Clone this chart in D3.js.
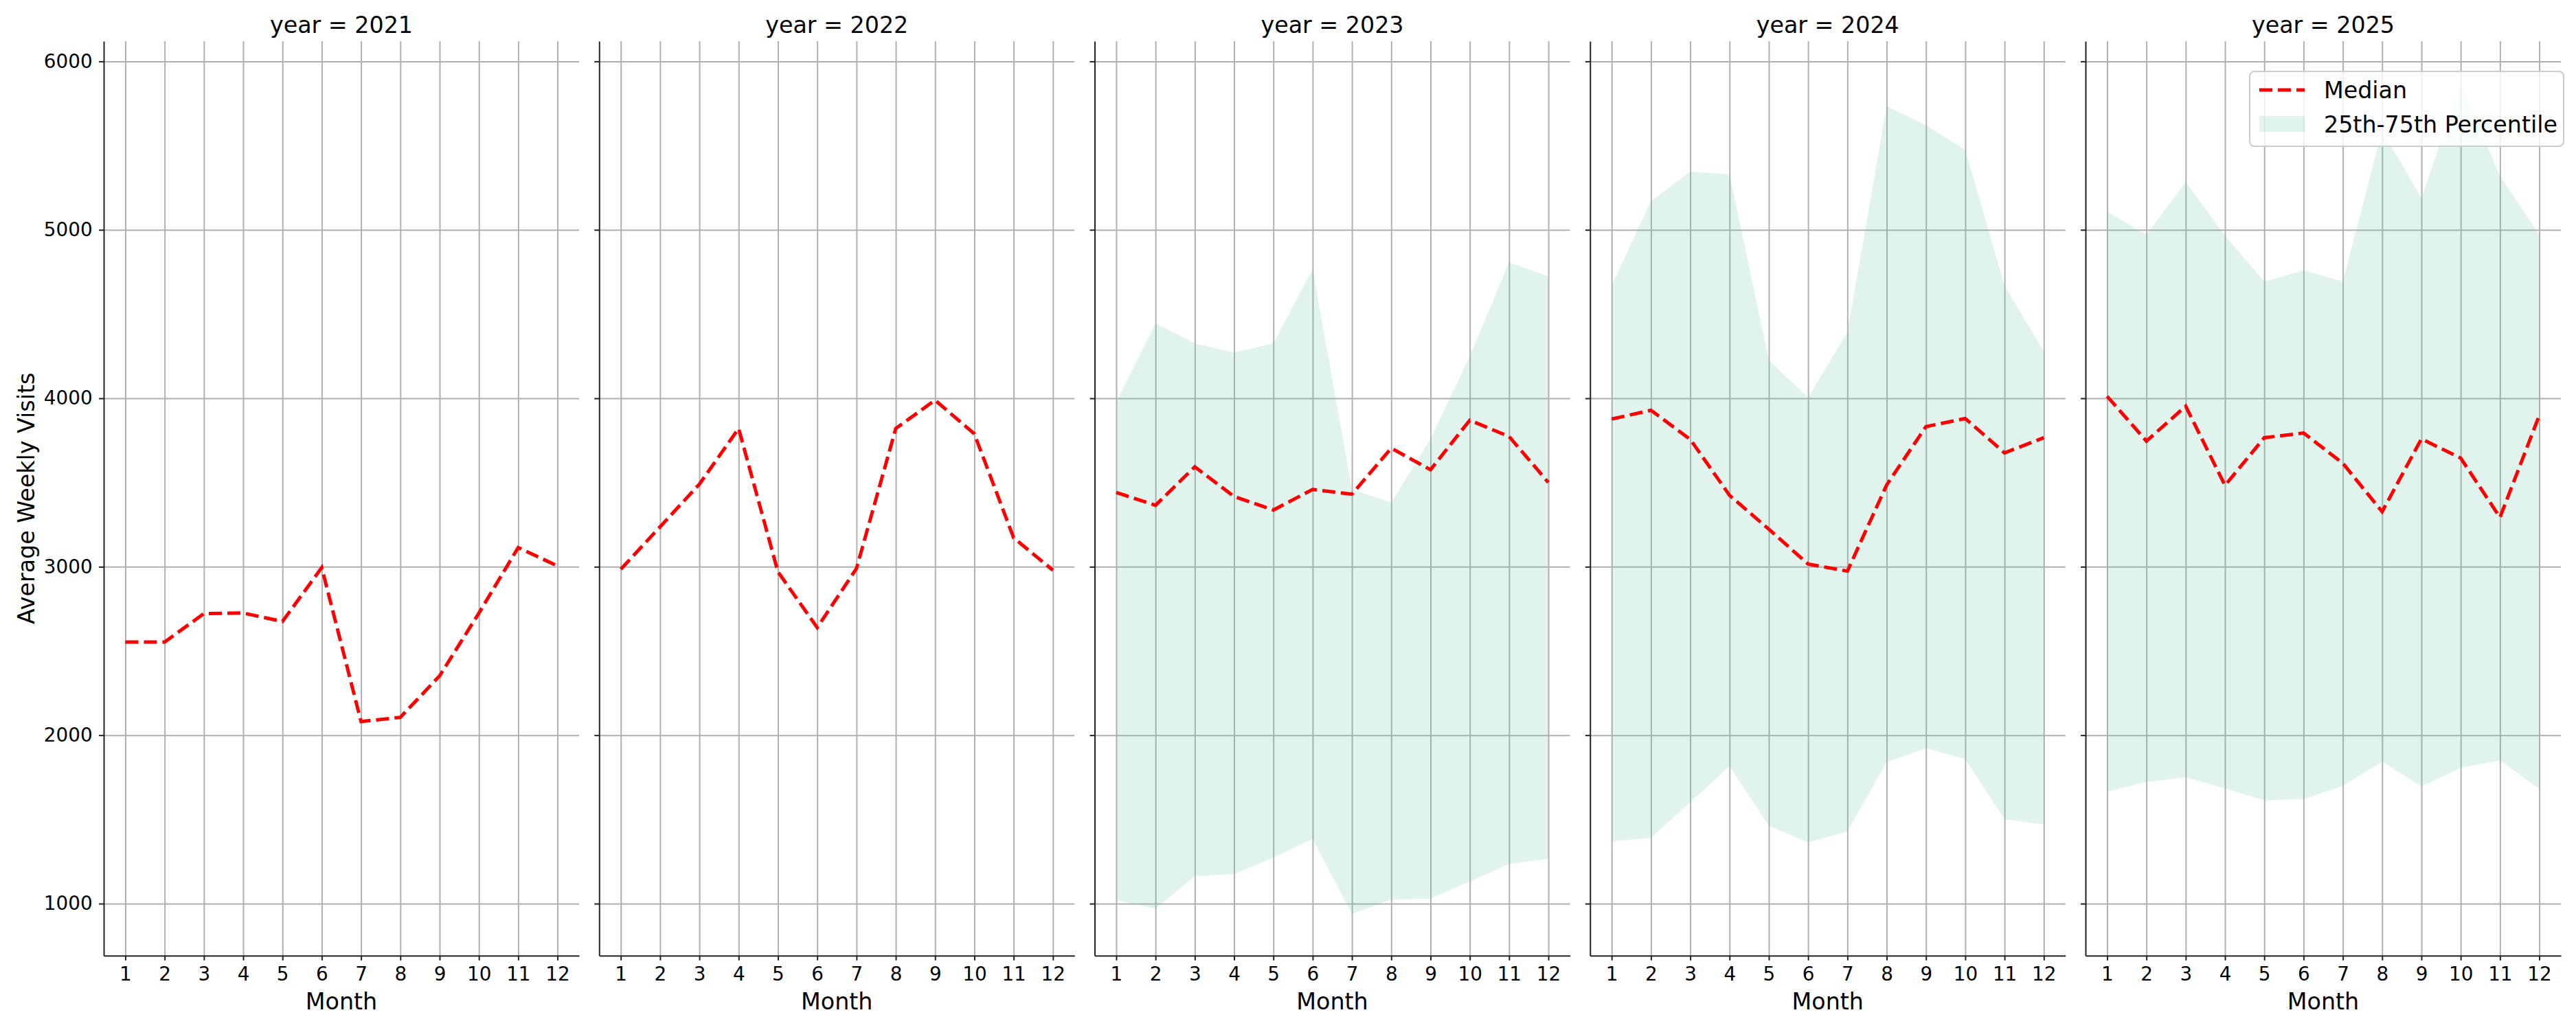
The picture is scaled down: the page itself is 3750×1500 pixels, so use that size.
<!DOCTYPE html>
<html>
<head>
<meta charset="utf-8">
<script src="https://cdn.jsdelivr.net/npm/d3@7"></script>
<style>
  body { margin: 0; background: #fff; }
  svg { display: block; }
  text { font-family: "DejaVu Sans", sans-serif; fill: #000; }
</style>
</head>
<body>
<svg></svg>
<script>
const years = [2021, 2022, 2023, 2024, 2025];
const months = [1, 2, 3, 4, 5, 6, 7, 8, 9, 10, 11, 12];
const yTicks = [1000, 2000, 3000, 4000, 5000, 6000];

// median of average weekly visits per month
const median2021 = [2553, 2553, 2722, 2725, 2675, 2995, 2081, 2106, 2352, 2725, 3114, 3005];
const median2022 = [2985, 3237, 3490, 3821, 2970, 2639, 2990, 3821, 3989, 3789, 3172, 2979];
const median2023 = [3441, 3365, 3593, 3417, 3337, 3459, 3431, 3704, 3576, 3870, 3773, 3500];
const median2024 = [3877, 3929, 3756, 3424, 3223, 3016, 2974, 3486, 3832, 3880, 3676, 3766];
const median2025 = [4012, 3746, 3953, 3483, 3766, 3794, 3614, 3327, 3759, 3645, 3293, 3898];

// 25th / 75th percentile (no band for 2021, 2022)
const p25_2023 = [1021, 970, 1163, 1176, 1273, 1384, 940, 1024, 1031, 1131, 1235, 1266];
const p75_2023 = [3977, 4444, 4326, 4271, 4326, 4766, 3459, 3382, 3759, 4250, 4807, 4724];
const p25_2024 = [1370, 1391, 1602, 1816, 1463, 1363, 1429, 1840, 1923, 1858, 1501, 1470];
const p75_2024 = [4669, 5170, 5346, 5329, 4226, 4005, 4392, 5734, 5620, 5474, 4669, 4278];
const p25_2025 = [1664, 1723, 1750, 1685, 1612, 1622, 1699, 1844, 1695, 1806, 1851, 1681];
const p75_2025 = [5108, 4970, 5284, 4965, 4693, 4759, 4693, 5590, 5187, 5870, 5319, 4970];

const medians = [median2021, median2022, median2023, median2024, median2025];
const lows = [null, null, p25_2023, p25_2024, p25_2025];
const highs = [null, null, p75_2023, p75_2024, p75_2025];

const svgWidth = 3750, svgHeight = 1500;
const margin = { left: 151, top: 60, bottom: 1391.7 };
const panelW = 692, step = 721.25;
const height = margin.bottom - margin.top;

const svg = d3.select('svg')
  .attr("width", svgWidth)
  .attr("height", svgHeight);

const x = d3.scaleLinear().domain([0.45, 12.55]).range([0, panelW]);
const y = d3.scaleLinear().domain([691.4, 6119.8]).range([height, 0]);

const line = d3.line()
  .x((d, i) => x(months[i]))
  .y(d => y(d));

const area = d3.area()
  .x(d => x(d.m))
  .y0(d => y(d.lo))
  .y1(d => y(d.hi));

years.forEach((yr, k) => {
  const g = svg.append("g")
    .attr("transform", "translate(" + (margin.left + k * step) + "," + margin.top + ")");

  // grid
  g.append("g")
    .call(d3.axisLeft(y).tickValues(yTicks).tickSize(-panelW).tickFormat(""))
    .call(s => s.select(".domain").remove())
    .selectAll("line").attr("stroke", "#b0b0b0").attr("stroke-width", 2);
  g.append("g")
    .call(d3.axisBottom(x).tickValues(months).tickSize(height).tickFormat(""))
    .call(s => s.select(".domain").remove())
    .selectAll("line").attr("stroke", "#b0b0b0").attr("stroke-width", 2);

  // band
  if (lows[k]) {
    const band = months.map((m, i) => ({ m: m, lo: lows[k][i], hi: highs[k][i] }));
    g.append("path")
      .datum(band)
      .attr("fill", "#66c2a5")
      .attr("fill-opacity", 0.2)
      .attr("d", area);
  }

  // median line
  g.append("path")
    .datum(medians[k])
    .attr("fill", "none")
    .attr("stroke", "red")
    .attr("stroke-width", 5)
    .attr("stroke-dasharray", "19,8")
    .attr("d", line);

  // axes
  const xa = g.append("g")
    .attr("transform", "translate(0," + height + ")")
    .call(d3.axisBottom(x).tickValues(months).tickSize(7).tickSizeOuter(0).tickPadding(9.3));
  const ya = g.append("g")
    .call(d3.axisLeft(y).tickValues(yTicks).tickSize(7).tickSizeOuter(0).tickPadding(9.4)
      .tickFormat(k === 0 ? d3.format("d") : ""));
  [xa, ya].forEach(a => {
    a.select(".domain").attr("stroke", "#222").attr("stroke-width", 2);
    a.selectAll(".tick line").attr("stroke", "#222").attr("stroke-width", 2);
    a.selectAll(".tick text").attr("fill", "#000").style("font-size", "27.8px")
      .style("font-family", '"DejaVu Sans", sans-serif');
  });

  g.append("text")
    .attr("x", panelW / 2)
    .attr("y", 48 - margin.top)
    .attr("text-anchor", "middle")
    .style("font-size", "33.3px")
    .text("year = " + yr);

  g.append("text")
    .attr("x", panelW / 2)
    .attr("y", 1470 - margin.top)
    .attr("text-anchor", "middle")
    .style("font-size", "33.3px")
    .text("Month");
});

svg.append("text")
  .attr("transform", "translate(50," + (margin.top + height / 2) + ") rotate(-90)")
  .attr("text-anchor", "middle")
  .style("font-size", "33.3px")
  .text("Average Weekly Visits");

// legend
const lg = svg.append("g").attr("transform", "translate(3275,104)");
lg.append("rect")
  .attr("width", 457).attr("height", 109)
  .attr("rx", 7)
  .attr("fill", "#fff").attr("fill-opacity", 0.8)
  .attr("stroke", "#cccccc").attr("stroke-width", 2);
lg.append("line")
  .attr("x1", 14).attr("x2", 80).attr("y1", 27).attr("y2", 27)
  .attr("stroke", "red").attr("stroke-width", 5).attr("stroke-dasharray", "19,8");
lg.append("rect")
  .attr("x", 14).attr("y", 65).attr("width", 66).attr("height", 23)
  .attr("fill", "#66c2a5").attr("fill-opacity", 0.2);
lg.append("text").attr("x", 108).attr("y", 39).style("font-size", "33.3px").text("Median");
lg.append("text").attr("x", 108).attr("y", 89).style("font-size", "33.3px").text("25th-75th Percentile");
</script>
</body>
</html>
